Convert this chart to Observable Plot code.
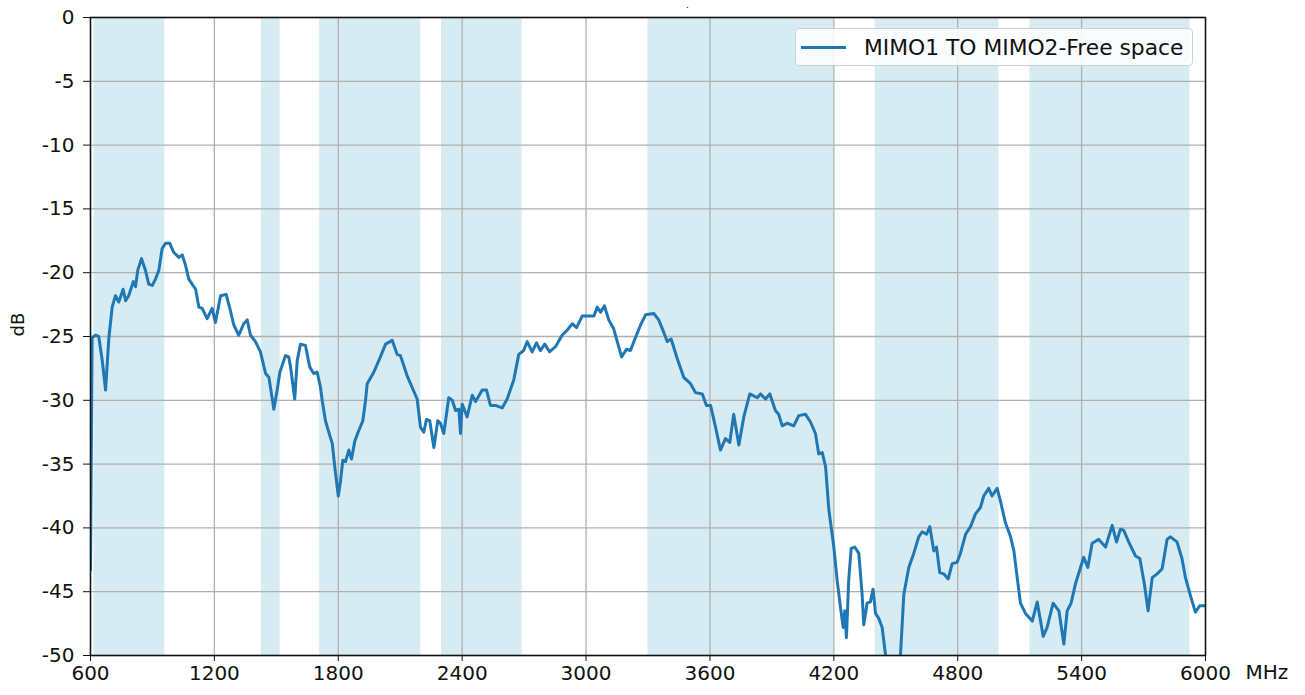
<!DOCTYPE html>
<html>
<head>
<meta charset="utf-8">
<script src="https://cdn.jsdelivr.net/npm/d3@7"></script>
<script src="https://cdn.jsdelivr.net/npm/@observablehq/plot@0.6"></script>
<style>
  body { margin: 0; background: #fff; }
  #wrap { position: relative; width: 1305px; height: 695px; font-family: "DejaVu Sans", sans-serif; }
  #legend { position: absolute; left: 795px; top: 28px; width: 398px; height: 38px; box-sizing: border-box;
            border: 1px solid #d0d0d0; border-radius: 4px; background: rgba(255,255,255,0.85);
            display: flex; align-items: center; font-size: 21.8px; color: #111; white-space: nowrap; }
  #legend .sw { width: 45px; height: 0; border-top: 3px solid #1f77b4; margin-left: 5px; margin-right: 18px; }
  #dot { position: absolute; left: 686px; top: 1px; font-size: 9px; line-height: 9px; color: #000; }
</style>
</head>
<body>
<div id="wrap">
  <div id="chart"></div>
  <div id="legend"><div class="sw"></div><span id="legendText"></span></div>
  <div id="dot">.</div>
</div>
<script>
const seriesName = "MIMO1 TO MIMO2-Free space";
const freqMHz = [600,608,624,640,657,673,689,705,721,737,758,770,785,807,818,829,847,866,882,899,915,931,947,963,984,1003,1028,1044,1060,1076,1109,1125,1141,1165,1189,1205,1230,1257,1278,1294,1318,1342,1359,1375,1399,1423,1448,1464,1488,1504,1517,1544,1560,1569,1589,1601,1617,1641,1662,1681,1698,1714,1722,1738,1754,1771,1783,1800,1811,1822,1835,1851,1864,1880,1896,1919,1932,1940,1972,2004,2029,2061,2085,2101,2134,2182,2198,2214,2227,2243,2263,2282,2295,2311,2335,2352,2368,2384,2392,2400,2424,2449,2465,2497,2518,2537,2561,2594,2618,2650,2674,2698,2715,2739,2760,2779,2800,2823,2852,2884,2909,2933,2954,2981,3005,3038,3054,3070,3089,3110,3134,3151,3172,3196,3215,3239,3264,3288,3328,3352,3377,3393,3412,3441,3473,3506,3530,3563,3583,3603,3627,3651,3675,3696,3715,3740,3764,3793,3829,3845,3869,3890,3917,3933,3950,3974,4006,4030,4063,4087,4111,4127,4144,4160,4176,4200,4216,4232,4245,4253,4261,4272,4284,4301,4321,4337,4345,4361,4377,4390,4402,4418,4434,4450,4484,4523,4539,4563,4587,4611,4628,4649,4665,4684,4697,4713,4732,4754,4773,4797,4813,4838,4862,4886,4910,4926,4950,4966,4991,5007,5031,5056,5072,5088,5104,5128,5161,5185,5214,5233,5262,5290,5314,5330,5349,5370,5391,5410,5430,5451,5483,5516,5548,5569,5588,5604,5628,5661,5682,5704,5722,5742,5766,5790,5814,5830,5862,5886,5903,5927,5951,5972,6000];
const gainDB = [-43.3,-25.1,-24.9,-25.0,-26.9,-29.2,-25.1,-22.7,-21.8,-22.3,-21.3,-22.2,-21.8,-20.7,-21.1,-19.8,-18.9,-19.8,-20.9,-21.0,-20.5,-19.8,-18.1,-17.7,-17.7,-18.4,-18.8,-18.6,-19.4,-20.5,-21.3,-22.7,-22.8,-23.6,-22.8,-23.9,-21.8,-21.7,-23.0,-24.1,-24.9,-24.0,-23.7,-24.9,-25.4,-26.2,-27.9,-28.2,-30.7,-29.2,-27.8,-26.5,-26.6,-27.4,-29.9,-26.9,-25.6,-25.7,-27.4,-27.9,-27.8,-29.0,-30.0,-31.6,-32.5,-33.4,-35.2,-37.5,-36.3,-34.7,-34.8,-33.9,-34.6,-33.2,-32.5,-31.6,-30.0,-28.7,-27.8,-26.6,-25.6,-25.3,-26.4,-26.5,-28.1,-29.9,-32.1,-32.5,-31.5,-31.6,-33.7,-31.6,-31.8,-32.6,-29.8,-30.0,-30.8,-30.7,-32.6,-30.3,-31.3,-29.6,-30.1,-29.2,-29.2,-30.4,-30.4,-30.6,-29.9,-28.4,-26.4,-26.1,-25.4,-26.2,-25.5,-26.1,-25.6,-26.2,-25.8,-24.9,-24.5,-24.0,-24.3,-23.4,-23.4,-23.4,-22.7,-23.1,-22.6,-23.7,-24.4,-25.4,-26.6,-26.0,-26.1,-25.1,-24.1,-23.3,-23.2,-23.7,-24.7,-25.4,-25.2,-26.7,-28.2,-28.7,-29.4,-29.5,-30.4,-30.4,-32.1,-33.9,-33.0,-33.3,-31.1,-33.5,-31.3,-29.5,-29.8,-29.5,-29.9,-29.5,-30.8,-31.1,-32.0,-31.8,-32.0,-31.2,-31.1,-31.7,-32.6,-34.2,-34.1,-35.2,-38.6,-41.5,-44.1,-46.2,-47.8,-46.5,-48.6,-44.1,-41.6,-41.5,-42.0,-45.2,-47.6,-45.9,-45.8,-44.8,-46.7,-47.1,-47.8,-49.9,-51.5,-49.9,-45.2,-43.1,-42.0,-40.7,-40.3,-40.5,-39.9,-41.8,-41.5,-43.5,-43.6,-44.0,-42.8,-42.7,-42.0,-40.5,-39.9,-38.9,-38.4,-37.5,-36.9,-37.5,-36.9,-37.9,-39.6,-40.7,-41.8,-43.9,-45.9,-46.7,-47.3,-45.8,-48.5,-47.8,-45.9,-46.5,-49.1,-46.5,-45.9,-44.4,-43.3,-42.3,-43.1,-41.2,-40.9,-41.5,-39.8,-41.1,-40.1,-40.2,-41.1,-42.2,-42.4,-44.4,-46.5,-43.9,-43.6,-43.2,-40.9,-40.7,-41.1,-42.4,-43.9,-45.3,-46.6,-46.1,-46.1];
const bandStart = [617, 1427, 1710, 2300, 3300, 4400, 5150];
const bandEnd   = [960, 1518, 2200, 2690, 4200, 5000, 5925];
const xTicks = [600, 1200, 1800, 2400, 3000, 3600, 4200, 4800, 5400, 6000];
const yTicks = [0, -5, -10, -15, -20, -25, -30, -35, -40, -45, -50];
const xUnit = "MHz";
const yLabel = "dB";

const lineData = freqMHz.map((f, i) => ({f, db: gainDB[i]}));
const bands = bandStart.map((s, i) => ({s, e: bandEnd[i]}));

const chart = Plot.plot({
  width: 1305, height: 695,
  marginLeft: 90, marginRight: 100, marginTop: 17, marginBottom: 40,
  x: {domain: [600, 6000]},
  y: {domain: [-50, 0]},
  style: {fontFamily: "DejaVu Sans, sans-serif", fontSize: "20px", color: "#111", background: "white"},
  marks: [
    Plot.rect(bands, {x1: "s", x2: "e", fill: "#add8e6", fillOpacity: 0.5}),
    Plot.gridX(xTicks, {stroke: "#b0b0b0", strokeOpacity: 1, strokeWidth: 1.3}),
    Plot.gridY(yTicks, {stroke: "#b0b0b0", strokeOpacity: 1, strokeWidth: 1.3}),
    Plot.line(lineData, {x: "f", y: "db", stroke: "#1f77b4", strokeWidth: 3, strokeLinejoin: "round", clip: true}),
    Plot.frame({stroke: "#111", strokeWidth: 1.5}),
    Plot.axisX(xTicks, {tickSize: 6, tickPadding: 4, tickFormat: d => String(d), label: null, fontSize: 20, letterSpacing: 1.5}),
    Plot.axisY(yTicks, {tickSize: 7, tickPadding: 9, tickFormat: d => String(d), label: null, fontSize: 20}),
    Plot.text([yLabel], {frameAnchor: "left", dx: -72, rotate: -90, fontSize: 18}),
    Plot.text([{v: xTicks[xTicks.length - 1], t: xUnit}], {x: "v", text: "t", frameAnchor: "bottom", dy: 23, dx: 40, textAnchor: "start", fontSize: 20})
  ]
});
document.getElementById("chart").appendChild(chart);
document.getElementById("legendText").textContent = seriesName;
</script>
</body>
</html>
